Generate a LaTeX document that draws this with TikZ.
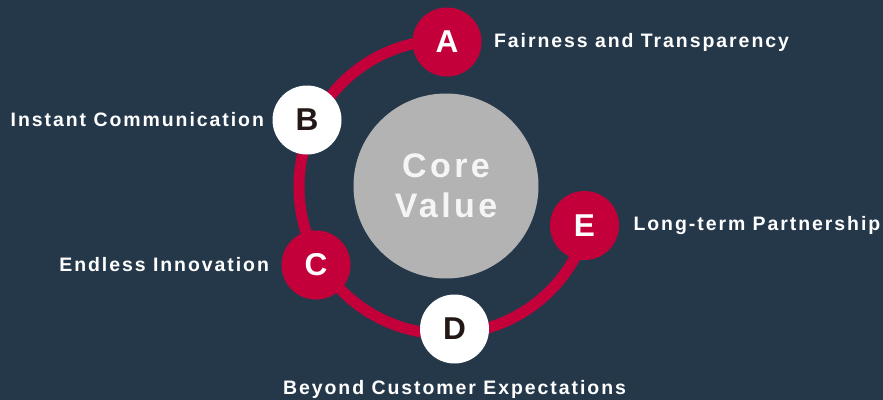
\documentclass[tikz,border=0pt]{standalone}
\usepackage{fontspec}
\setmainfont{Liberation Sans}
\newfontfamily\spacedfont{Liberation Sans}[LetterSpace=10]
\usetikzlibrary{positioning}
\definecolor{navy}{HTML}{25384A}
\definecolor{crimson}{HTML}{C4003B}
\definecolor{ashgray}{HTML}{B3B3B3}
\definecolor{inkdark}{HTML}{231815}
\tikzset{
  ring/.style={draw=crimson, line width=8.25pt},
  redball/.style={circle, fill=crimson, minimum size=51.75pt, inner sep=0pt, text=white,
    font=\bfseries\fontsize{23.7pt}{26pt}\selectfont},
  whiteball/.style={redball, fill=white, text=inkdark},
  caption/.style={inner sep=0pt, text=white, font=\spacedfont\bfseries\fontsize{14.6pt}{16pt}\selectfont}
}
\begin{document}
\begin{tikzpicture}[x=0.75pt, y=-0.75pt]
\fill[navy] (0,0) rectangle (883,400);
\useasboundingbox (0,0) rectangle (883,400);
\node[circle, fill=ashgray, minimum size=138.75pt, inner sep=0pt, text=white!96!black, align=center,
  font=\spacedfont\bfseries\fontsize{25.5pt}{29.6pt}\selectfont] (core) at (446,186) {Core\\Value};
\coordinate (hub) at (446,187);
\draw[ring] (hub) ++(270:147) arc[start angle=270, end angle=15.5, radius=147];
\node[redball] (A) at (447,42) {A};
\node[whiteball] (B) at (307,120) {B};
\node[redball] (C) at (316,265) {C};
\node[whiteball] (D) at (454.5,329) {D};
\node[redball] (E) at (584.5,225.5) {E};
\node[caption, right=9pt of A] (fair) {Fairness and Transparency};
\node[caption, left=6pt of B] (instant) {Instant Communication};
\node[caption, left=9pt of C] (endless) {Endless Innovation};
\node[caption, right=10.5pt of E] (partner) {Long-term Partnership};
\node[caption, below=12pt of D] (beyond) {Beyond Customer Expectations};
\end{tikzpicture}
\end{document}
